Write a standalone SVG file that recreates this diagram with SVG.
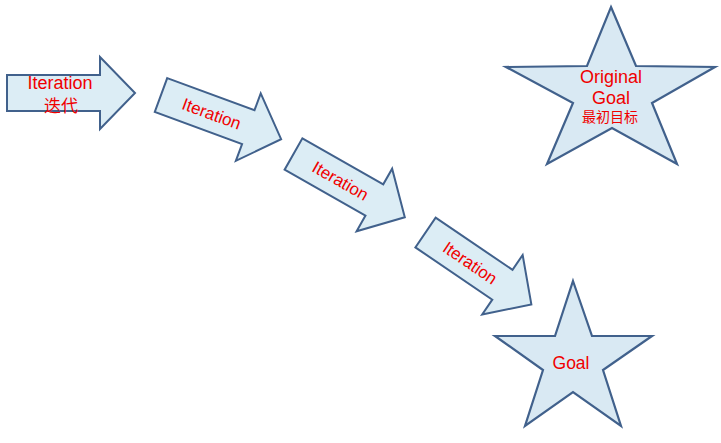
<svg xmlns="http://www.w3.org/2000/svg" width="721" height="443" viewBox="0 0 721 443">
<defs>
<style>
.shape{fill:#dcedf5;stroke:#41618c;stroke-width:2;stroke-linejoin:miter}
.star{fill:#d9e9f3;stroke:#41618c;stroke-width:2.2;stroke-linejoin:miter}
.t{font-family:"Liberation Sans",Arial,sans-serif;fill:#f00000;text-anchor:middle}
.c{font-family:"Liberation Sans","Noto Sans CJK SC",sans-serif;fill:#f00000;text-anchor:middle}
</style>
<polygon id="arrowShape" points="0,-18 93,-18 93,-36 128,0 93,36 93,18 0,18"/>
</defs>
<rect width="721" height="443" fill="#ffffff"/>
<g id="connectors"></g>
<g id="iter1" transform="translate(7,93)">
<use href="#arrowShape" class="shape"/>
<text class="t" x="53" y="-4" font-size="18">Iteration</text>
<text class="c" x="54" y="19" font-size="17">迭代</text>
</g>
<g id="iter2" transform="translate(161,95) rotate(20.2)">
<use href="#arrowShape" class="shape"/>
<text class="t" x="54" y="6" font-size="17">Iteration</text>
</g>
<g id="iter3" transform="translate(293.5,154) rotate(29.6)">
<use href="#arrowShape" class="shape"/>
<text class="t" x="54" y="6" font-size="17">Iteration</text>
</g>
<g id="iter4" transform="translate(425.5,232.5) rotate(34.2)">
<use href="#arrowShape" class="shape"/>
<text class="t" x="54" y="6" font-size="17">Iteration</text>
</g>
<g id="originalGoal">
<polygon class="star" points="611,7 636,66 715,67 652,103 677,164 612,128 547,164 573,103 506,67 587,66"/>
<text class="t" x="611" y="83" font-size="18">Original</text>
<text class="t" x="611" y="104" font-size="18">Goal</text>
<text class="c" x="610" y="122" font-size="14">最初目标</text>
</g>
<g id="goal">
<polygon class="star" points="573,281 592,336 652,336 603,370 621,426 573,392 525,426 543,370 495,336 555,336"/>
<text class="t" x="571" y="369" font-size="17.5">Goal</text>
</g>
</svg>
